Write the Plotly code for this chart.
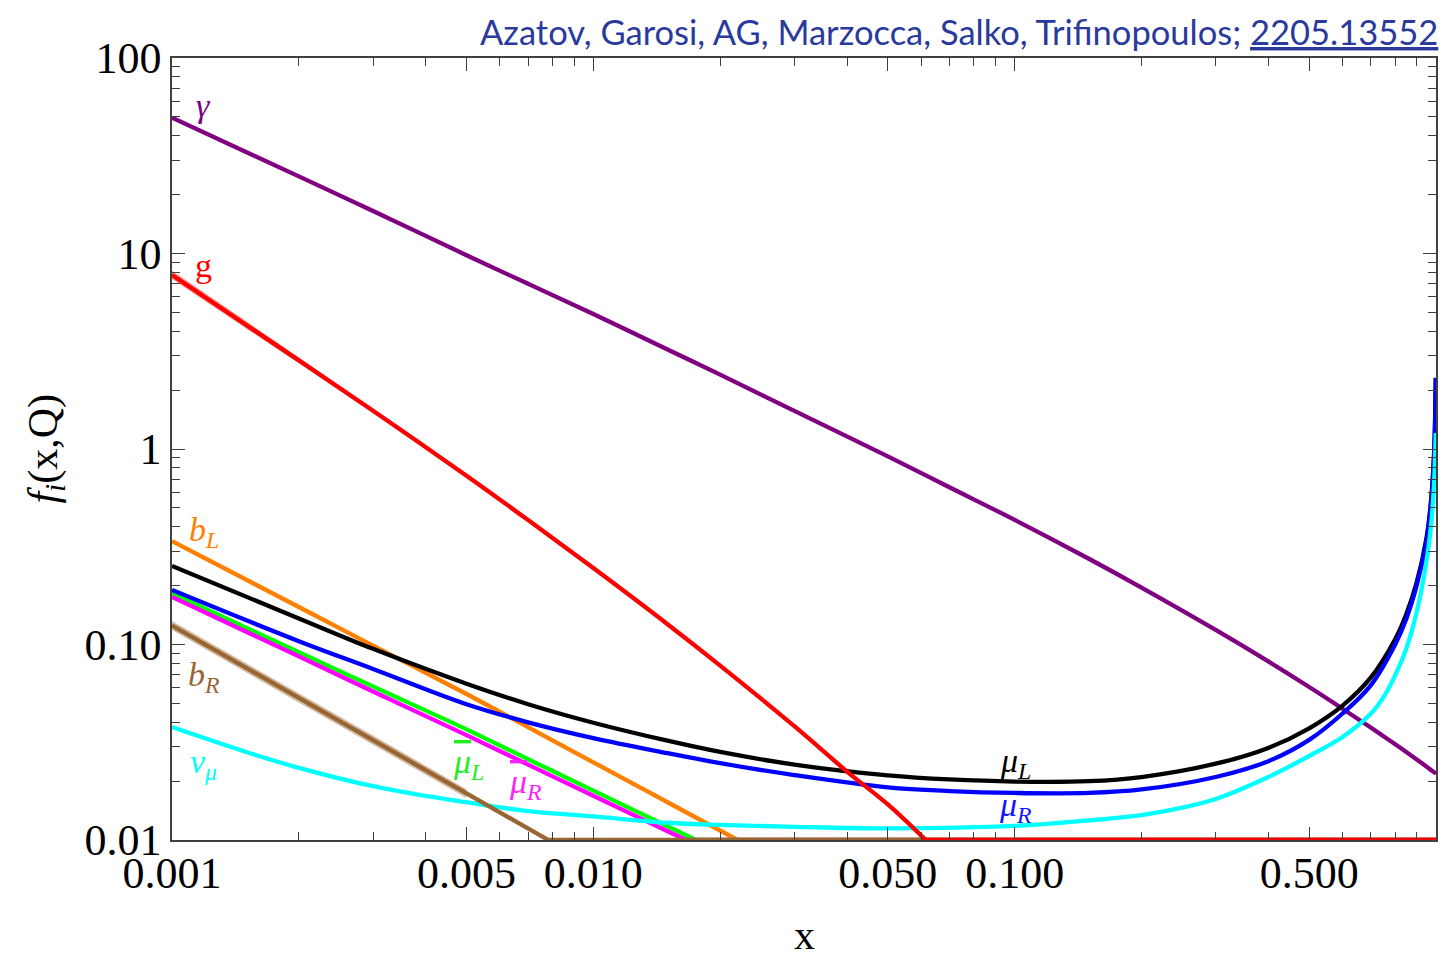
import numpy as np
import plotly.graph_objects as go

# ---------------- parton distributions f_i(x, Q) ----------------
# photon
x_gamma = [0.001, 0.002, 0.003, 0.005, 0.007, 0.01, 0.015, 0.02, 0.03, 0.05, 0.07,
           0.1, 0.15, 0.2, 0.3, 0.4, 0.5, 0.6, 0.7, 0.8, 0.9, 0.95, 1.0]
f_gamma = [49.5, 24.8, 16.5, 9.8, 7.0, 4.9, 3.227, 2.40, 1.567, 0.917, 0.637,
           0.434, 0.2746, 0.1955, 0.1187, 0.0819, 0.06061, 0.04695, 0.03763, 0.03088,
           0.02581, 0.02372, 0.02185]

# gluon (with its uncertainty band at small x)
x_g = [0.001, 0.0015, 0.002, 0.003, 0.005, 0.007, 0.01, 0.015, 0.02, 0.03, 0.04,
       0.05, 0.0615, 0.08, 0.1, 0.2, 0.5, 1.0]
f_g = [7.76, 4.31, 2.84, 1.57, 0.73, 0.433, 0.246, 0.127, 0.078, 0.0382, 0.0224,
       0.0152, 0.0100, 0.0056, 0.0034, 5e-4, 1e-5, 1e-7]
x_g_band = [0.001, 0.0015, 0.002, 0.003, 0.004]
f_g_lo = [7.40, 4.14, 2.75, 1.54, 1.01]
f_g_hi = [8.15, 4.50, 2.94, 1.60, 1.02]

# left-handed bottom
x_bL = [0.001, 0.002, 0.003, 0.005, 0.00745, 0.01, 0.0128, 0.015, 0.022, 0.03,
        0.05, 0.1, 0.3, 1.0]
f_bL = [0.338, 0.1555, 0.0987, 0.0558, 0.0351, 0.02496, 0.01875, 0.0156, 0.0100,
        0.0070, 0.0038, 0.0015, 2e-4, 1e-6]

# right-handed bottom (with band)
x_bR = [0.001, 0.002, 0.003, 0.005, 0.00782, 0.01, 0.02, 0.05, 0.1, 0.3, 1.0]
f_bR = [0.125, 0.0533, 0.0324, 0.0173, 0.0100, 0.0074, 0.0031, 0.0010, 4e-4, 5e-5, 1e-6]
f_bR_lo = [0.1185, 0.0505, 0.0307, 0.0164, 0.0095, 0.0070, 0.0029, 0.00095, 3.8e-4, 4.7e-5, 1e-6]
f_bR_hi = [0.1320, 0.0563, 0.0342, 0.0182, 0.0105, 0.0078, 0.0033, 0.00105, 4.2e-4, 5.3e-5, 1e-6]

# muons
x_mu = [0.001, 0.002, 0.003, 0.005, 0.007, 0.01, 0.015, 0.02, 0.03, 0.05, 0.07, 0.1,
        0.15, 0.2, 0.3, 0.4, 0.5, 0.6, 0.7, 0.8, 0.85, 0.9, 0.95, 0.975, 0.99, 0.995,
        0.999]
f_muL = [0.252, 0.136, 0.095, 0.063, 0.0495, 0.0398, 0.0322, 0.0282, 0.0243, 0.0214,
         0.0204, 0.0199, 0.0200, 0.0210, 0.02457, 0.02959, 0.03727, 0.0487, 0.06764,
         0.1063, 0.1427, 0.208, 0.3535, 0.568, 0.965, 1.39, 2.31]
f_muR = [0.190, 0.104, 0.075, 0.0495, 0.0400, 0.0332, 0.0278, 0.0247, 0.0215, 0.0186,
         0.0178, 0.0174, 0.0174, 0.01813, 0.02101, 0.02529, 0.03251, 0.04437, 0.06184,
         0.1001, 0.1352, 0.2008, 0.3431, 0.548, 0.954, 1.374, 2.31]

# anti-muons
x_mubL = [0.001, 0.002, 0.003, 0.005, 0.007, 0.01, 0.0128, 0.015, 0.0175, 0.025,
          0.05, 0.1, 0.3, 1.0]
f_mubL = [0.183, 0.0912, 0.0610, 0.0368, 0.0259, 0.0179, 0.01385, 0.01175, 0.0100,
          0.0068, 0.0030, 0.0012, 2e-4, 1e-6]
x_mubR = [0.001, 0.002, 0.003, 0.005, 0.007, 0.01, 0.0128, 0.0145, 0.0166, 0.025,
          0.05, 0.1, 0.3, 1.0]
f_mubR = [0.175, 0.0869, 0.0575, 0.0344, 0.0243, 0.01685, 0.01306, 0.01149, 0.0100,
          0.0062, 0.0028, 0.0011, 2e-4, 1e-6]

# muon neutrino
x_nu = [0.001, 0.0015, 0.002, 0.003, 0.004, 0.005, 0.007, 0.01, 0.015, 0.02, 0.03,
        0.05, 0.1, 0.15, 0.2, 0.245, 0.3, 0.4, 0.5, 0.6, 0.7, 0.75, 0.8, 0.85,
        0.9, 0.95, 0.975, 0.99, 0.995, 0.999]
f_nu = [0.0378, 0.0282, 0.0234, 0.01884, 0.0168, 0.0156, 0.01406, 0.0132, 0.01225,
        0.01194, 0.01168, 0.01148, 0.0118, 0.01259, 0.0134, 0.0145, 0.0162, 0.0210,
        0.0269, 0.03364, 0.04419, 0.05362, 0.06949, 0.09506, 0.1466, 0.2690,
        0.4232, 0.6781, 0.8995, 1.207]

# axis ticks
x_major = [0.001, 0.005, 0.01, 0.05, 0.1, 0.5]
x_major_text = ["0.001", "0.005", "0.010", "0.050", "0.100", "0.500"]
x_minor = [0.002, 0.003, 0.004, 0.006, 0.007, 0.008, 0.009,
           0.02, 0.03, 0.04, 0.06, 0.07, 0.08, 0.09,
           0.2, 0.3, 0.4, 0.6, 0.7, 0.8, 0.9, 1.0]
y_major = [0.01, 0.1, 1, 10, 100]
y_major_text = ["0.01", "0.10", "1", "10", "100"]
y_minor = [m * 10.0 ** k for k in range(-2, 2) for m in range(2, 10)]

BAR = '<span style="text-decoration:overline">{}</span>'

# curve labels: text, x, f, colour
labels = [
    ("<i>γ</i>", 0.00119, 57.0, "#800080"),
    ("g", 0.00119, 8.7, "#FF0000"),
    ("<i>b</i><sub><i>L</i></sub>", 0.00119, 0.375, "#FF8000"),
    ("<i>b</i><sub><i>R</i></sub>", 0.00119, 0.068, "#996633"),
    ("<i>ν</i><sub><i>μ</i></sub>", 0.00119, 0.0246, "#00FFFF"),
    (BAR.format("<i>μ</i>") + "<sub><i>L</i></sub>", 0.00505, 0.0246, "#22EE22"),
    (BAR.format("<i>μ</i>") + "<sub><i>R</i></sub>", 0.0069, 0.0193, "#FF22FF"),
    ("<i>μ</i><sub><i>L</i></sub>", 0.1005, 0.0248, "#000000"),
    ("<i>μ</i><sub><i>R</i></sub>", 0.1005, 0.0148, "#1515FF"),
]

FLOOR = 0.01  # lower edge of the plotted range; curves below it run along the frame
SERIF = "Liberation Serif"
LW = 4.3

fig = go.Figure()


def curve(x, f, color, width=LW):
    x = np.asarray(x, float)
    f = np.asarray(f, float)
    above = f >= FLOOR
    fig.add_trace(go.Scatter(
        x=x[above], y=f[above], mode="lines",
        line=dict(color=color, width=width, shape="spline", smoothing=1.0),
        hoverinfo="skip"))
    if not above.all():
        # the part below the plotted range is drawn along the lower frame
        x_start = x[above][-1]
        fig.add_trace(go.Scatter(
            x=[x_start, x[-1]], y=[FLOOR, FLOOR], mode="lines",
            line=dict(color=color, width=width), hoverinfo="skip"))


def band(x, lo, hi, fill):
    x = np.asarray(x, float)
    lo = np.asarray(lo, float)
    hi = np.asarray(hi, float)
    keep = lo >= FLOOR
    fig.add_trace(go.Scatter(x=x[keep], y=lo[keep], mode="lines",
                             line=dict(width=0, shape="spline"), hoverinfo="skip"))
    fig.add_trace(go.Scatter(x=x[keep], y=hi[keep], mode="lines",
                             line=dict(width=0, shape="spline"), fill="tonexty",
                             fillcolor=fill, hoverinfo="skip"))


curve(x_gamma, f_gamma, "#800080")
curve(x_bL, f_bL, "#FF8000")
curve(x_mu, f_muL, "#000000")
curve(x_mubL, f_mubL, "#00FF00")
curve(x_mubR, f_mubR, "#FF00FF")
curve(x_mu, f_muR, "#0000FF")
curve(x_nu, f_nu, "#00FFFF")
band(x_bR, f_bR_lo, f_bR_hi, "rgba(153,102,51,0.45)")
curve(x_bR, f_bR, "#996633")
band(x_g_band, f_g_lo, f_g_hi, "rgba(255,0,0,0.45)")
curve(x_g, f_g, "#FF0000")

for text, lx, ly, col in labels:
    fig.add_annotation(x=np.log10(lx), y=np.log10(ly), text=text, showarrow=False,
                       font=dict(family=SERIF, size=34, color=col),
                       xanchor="center", yanchor="middle")

# axis titles
fig.add_annotation(xref="paper", yref="paper", x=-0.1, y=0.5, textangle=-90,
                   text="<i>f</i><sub><i>i</i></sub>(x,Q)", showarrow=False,
                   font=dict(family=SERIF, size=42, color="black"),
                   xanchor="center", yanchor="middle")
fig.add_annotation(xref="paper", yref="paper", x=0.5, y=-0.1535, text="x",
                   showarrow=False, font=dict(family=SERIF, size=42, color="black"),
                   xanchor="center", yanchor="bottom")

# reference line
fig.add_annotation(xref="paper", yref="paper", x=1.0035, y=1.034,
                   text="Azatov, Garosi, AG, Marzocca, Salko, Trifinopoulos; <u>2205.13552</u>",
                   showarrow=False, font=dict(family="Lato", size=34.5, color="#2a3a9c"),
                   xanchor="right", yanchor="middle")

frame = "#404040"
axis_common = dict(
    type="log", ticks="inside", ticklen=13, tickwidth=1.3, tickcolor=frame,
    showline=True, linecolor=frame, linewidth=1.6, mirror="ticks",
    showgrid=False, zeroline=False,
    tickfont=dict(family=SERIF, size=44, color="black"),
)
fig.update_xaxes(range=[-3, 0], tickvals=x_major, ticktext=x_major_text,
                 ticklabelstandoff=-7,
                 minor=dict(tickvals=x_minor, ticks="inside", ticklen=8,
                            tickwidth=1.1, tickcolor=frame, showgrid=False),
                 **axis_common)
fig.update_yaxes(range=[-2, 2], tickvals=y_major, ticktext=y_major_text,
                 ticklabelstandoff=0,
                 minor=dict(tickvals=y_minor, ticks="inside", ticklen=8,
                            tickwidth=1.1, tickcolor=frame, showgrid=False),
                 **axis_common)

fig.update_layout(width=1443, height=960, margin=dict(l=172, r=5, t=58, b=120),
                  plot_bgcolor="white", paper_bgcolor="white", showlegend=False)

fig.write_html("out.html")
